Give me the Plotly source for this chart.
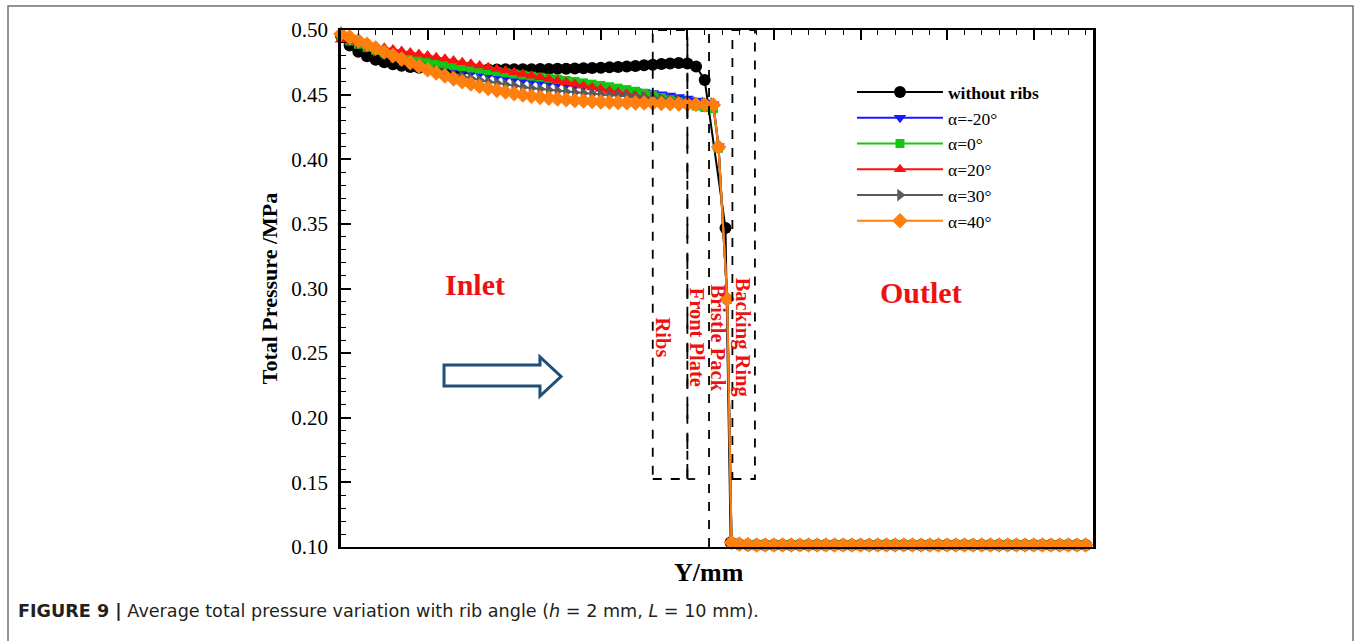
import plotly.graph_objects as go

# ---------------- data ----------------
# Y position (mm-like units, no tick labels on the original axis)
X_INLET = [0.0, 0.5, 1.0, 1.5, 2.0, 2.5, 3.0, 3.5, 4.0, 4.5, 5.0, 5.5, 6.0, 6.5, 7.0,
           7.5, 8.0, 8.5, 9.0, 9.5, 10.0, 10.5, 11.0, 11.5, 12.0, 12.5, 13.0, 13.5,
           14.0, 14.5, 15.0, 15.5, 16.0, 16.5, 17.0, 17.5, 18.0, 18.5, 19.0, 19.5,
           20.0, 20.5, 21.0]
X_DROP = [21.5, 21.8, 22.3, 22.55]
X_DROP_NORIB = [22.2, 22.5]
X_TAIL = [23.0, 23.5, 24.0, 24.5, 25.0, 25.5, 26.0, 26.5, 27.0, 27.5, 28.0, 28.5,
          29.0, 29.5, 30.0, 30.5, 31.0, 31.5, 32.0, 32.5, 33.0, 33.5, 34.0, 34.5,
          35.0, 35.5, 36.0, 36.5, 37.0, 37.5, 38.0, 38.5, 39.0, 39.5, 40.0, 40.5,
          41.0, 41.5, 42.0, 42.5, 43.0]

P_NORIB = [0.4955, 0.4880, 0.4832, 0.4797, 0.4770, 0.4750, 0.4735, 0.4723, 0.4714,
           0.4707, 0.4702, 0.4699, 0.4697, 0.4696, 0.4695, 0.4695, 0.4695, 0.4695,
           0.4695, 0.4696, 0.4696, 0.4697, 0.4697, 0.4698, 0.4699, 0.4700, 0.4701,
           0.4702, 0.4704, 0.4706, 0.4708, 0.4711, 0.4714, 0.4718, 0.4722, 0.4727,
           0.4732, 0.4737, 0.4741, 0.4744, 0.4740, 0.4718, 0.4613]
P_NORIB_DROP = [0.3468, 0.1035]

P_M20 = [0.4940, 0.4915, 0.4890, 0.4866, 0.4843, 0.4822, 0.4802, 0.4783, 0.4766,
         0.4750, 0.4735, 0.4721, 0.4708, 0.4696, 0.4684, 0.4673, 0.4662, 0.4652,
         0.4642, 0.4632, 0.4623, 0.4614, 0.4606, 0.4598, 0.4590, 0.4583, 0.4576,
         0.4569, 0.4562, 0.4555, 0.4549, 0.4543, 0.4538, 0.4533, 0.4527, 0.4520,
         0.4512, 0.4503, 0.4493, 0.4482, 0.4470, 0.4455, 0.4440]
P_M20_DROP = [0.4425, 0.4100, 0.2925, 0.1035]

P_0 = [0.4940, 0.4915, 0.4890, 0.4866, 0.4843, 0.4824, 0.4808, 0.4793, 0.4779,
       0.4766, 0.4755, 0.4745, 0.4735, 0.4725, 0.4716, 0.4706, 0.4696, 0.4687,
       0.4678, 0.4669, 0.4660, 0.4651, 0.4643, 0.4635, 0.4627, 0.4619, 0.4610,
       0.4601, 0.4591, 0.4581, 0.4571, 0.4561, 0.4550, 0.4539, 0.4526, 0.4511,
       0.4495, 0.4478, 0.4461, 0.4444, 0.4428, 0.4412, 0.4400]
P_0_DROP = [0.4392, 0.4085, 0.2915, 0.1035]

P_20 = [0.4925, 0.4915, 0.4903, 0.4890, 0.4876, 0.4862, 0.4849, 0.4837, 0.4825,
        0.4814, 0.4803, 0.4790, 0.4777, 0.4764, 0.4751, 0.4738, 0.4725, 0.4712,
        0.4699, 0.4686, 0.4673, 0.4660, 0.4647, 0.4634, 0.4621, 0.4608, 0.4595,
        0.4582, 0.4569, 0.4556, 0.4543, 0.4530, 0.4517, 0.4504, 0.4492, 0.4481,
        0.4471, 0.4462, 0.4454, 0.4447, 0.4441, 0.4436, 0.4432]
P_20_DROP = [0.4428, 0.4095, 0.2920, 0.1035]

P_30 = [0.4950, 0.4925, 0.4898, 0.4870, 0.4843, 0.4817, 0.4792, 0.4768, 0.4745,
        0.4723, 0.4703, 0.4685, 0.4668, 0.4652, 0.4638, 0.4625, 0.4612, 0.4600,
        0.4589, 0.4578, 0.4568, 0.4558, 0.4550, 0.4543, 0.4536, 0.4529, 0.4522,
        0.4516, 0.4511, 0.4506, 0.4501, 0.4497, 0.4493, 0.4489, 0.4485, 0.4480,
        0.4475, 0.4468, 0.4461, 0.4454, 0.4447, 0.4441, 0.4436]
P_30_DROP = [0.4432, 0.4095, 0.2920, 0.1035]

P_40 = [0.4970, 0.4945, 0.4918, 0.4890, 0.4860, 0.4830, 0.4802, 0.4775, 0.4747,
        0.4720, 0.4692, 0.4668, 0.4645, 0.4622, 0.4600, 0.4582, 0.4565, 0.4548,
        0.4533, 0.4520, 0.4508, 0.4497, 0.4487, 0.4479, 0.4472, 0.4466, 0.4460,
        0.4455, 0.4451, 0.4447, 0.4444, 0.4441, 0.4439, 0.4437, 0.4436, 0.4435,
        0.4434, 0.4432, 0.4430, 0.4428, 0.4426, 0.4424, 0.4422]
P_40_DROP = [0.4420, 0.4095, 0.2919, 0.1035]

# outlet plateau (all cases coincide)
P_TAIL = [0.1022, 0.1018, 0.1016, 0.1015, 0.1015, 0.1015, 0.1015, 0.1015, 0.1015,
          0.1015, 0.1015, 0.1015, 0.1015, 0.1015, 0.1015, 0.1015, 0.1015, 0.1015,
          0.1015, 0.1015, 0.1015, 0.1015, 0.1015, 0.1015, 0.1015, 0.1015, 0.1015,
          0.1015, 0.1015, 0.1015, 0.1015, 0.1015, 0.1015, 0.1015, 0.1015, 0.1015,
          0.1015, 0.1015, 0.1015, 0.1015, 0.1015]

NAMES = ["<b>without ribs</b>", "α=-20°", "α=0°", "α=20°", "α=30°", "α=40°"]
COLORS = ["#000000", "#1a1aff", "#12c812", "#ff1010", "#5a5a5a", "#ff7f0e"]
SYMBOLS = ["circle", "triangle-down", "square", "triangle-up", "triangle-right", "diamond"]
SIZES = [12, 11, 9, 11, 11, 12]

# seal component zones (Y positions) and box bottom (pressure)
ZONE_EDGES = [18.0, 20.0, 21.25, 22.6, 23.9]
ZONE_BOTTOM = 0.1526
ZONE_LABELS = ["Ribs", "Front Plate", "Bristle Pack", "Backing Ring"]
ZONE_LABEL_X = [18.6, 20.55, 21.77, 23.15]
ZONE_LABEL_Y = 0.262

SERIES_Y = [P_NORIB, P_M20, P_0, P_20, P_30, P_40]
SERIES_DROP = [P_NORIB_DROP, P_M20_DROP, P_0_DROP, P_20_DROP, P_30_DROP, P_40_DROP]

fig = go.Figure()
for i in range(6):
    xd = X_DROP_NORIB if i == 0 else X_DROP
    xs = X_INLET + xd + X_TAIL
    ys = SERIES_Y[i] + SERIES_DROP[i] + P_TAIL
    fig.add_trace(go.Scatter(
        x=xs, y=ys, name=NAMES[i], mode="lines+markers",
        line=dict(color=COLORS[i], width=2),
        marker=dict(symbol=SYMBOLS[i], size=SIZES[i], color=COLORS[i], line=dict(width=0)),
        cliponaxis=False,
    ))

RED = "#ee1111"
SERIF = "Liberation Serif"
DASH = dict(color="black", width=1.8, dash="dash")

shapes = []
# dashed component boxes
for x0, x1 in [(ZONE_EDGES[0], ZONE_EDGES[1]), (ZONE_EDGES[3], ZONE_EDGES[4])]:
    shapes.append(dict(type="rect", xref="x", yref="y", x0=x0, x1=x1, y0=ZONE_BOTTOM, y1=0.5,
                       line=DASH))
shapes.append(dict(type="line", xref="x", yref="y", x0=ZONE_EDGES[1], x1=ZONE_EDGES[1],
                   y0=ZONE_BOTTOM, y1=0.5,
                   line=dict(color="black", width=1.8, dash="longdash")))
shapes.append(dict(type="line", xref="x", yref="y", x0=ZONE_EDGES[1], x1=ZONE_EDGES[1] + 0.45,
                   y0=ZONE_BOTTOM, y1=ZONE_BOTTOM, line=dict(color="black", width=1.8)))
shapes.append(dict(type="line", xref="x", yref="y", x0=ZONE_EDGES[2], x1=ZONE_EDGES[2],
                   y0=0.10, y1=0.5, line=DASH))

# flow arrow (outlined block arrow)
shapes.append(dict(type="path", xref="paper", yref="paper",
                   path="M0.1370,0.3114 L0.2646,0.3114 L0.2646,0.2921 L0.2926,0.3298 "
                        "L0.2646,0.3675 L0.2646,0.3520 L0.1370,0.3520 Z",
                   line=dict(color="#1f4e79", width=3), fillcolor="white"))
# outer frame
shapes.append(dict(type="rect", xref="paper", yref="paper", x0=-0.4428, x1=1.3457,
                   y0=-0.25, y1=1.0464, line=dict(color="#707070", width=1.5),
                   fillcolor="rgba(0,0,0,0)", layer="below"))

annotations = [
    dict(text="<b>Inlet</b>", xref="paper", yref="paper", x=0.178, y=0.507, showarrow=False,
         xanchor="center", yanchor="middle",
         font=dict(family=SERIF, size=30, color=RED)),
    dict(text="<b>Outlet</b>", xref="paper", yref="paper", x=0.771, y=0.493, showarrow=False,
         xanchor="center", yanchor="middle",
         font=dict(family=SERIF, size=30, color=RED)),
    dict(text="<b>Y/mm</b>", xref="paper", yref="paper", x=0.489, y=-0.050, showarrow=False,
         xanchor="center", yanchor="middle",
         font=dict(family=SERIF, size=26, color="black")),
    dict(text="<b>FIGURE 9 |</b> Average total pressure variation with rib angle "
              "(<i>h</i> = 2 mm, <i>L</i> = 10 mm).",
         xref="paper", yref="paper", x=-0.4322, y=-0.124, xanchor="left", yanchor="middle",
         showarrow=False, font=dict(family="DejaVu Sans", size=17.6, color="#231f20")),
]
for lab, lx in zip(ZONE_LABELS, ZONE_LABEL_X):
    annotations.append(dict(text="<b>%s</b>" % lab, xref="x", yref="y", x=lx, y=ZONE_LABEL_Y,
                            showarrow=False, textangle=90, xanchor="center", yanchor="middle",
                            font=dict(family=SERIF, size=20.5, color=RED)))

fig.update_layout(
    width=1356, height=641,
    margin=dict(l=341, r=263, t=30, b=94),
    paper_bgcolor="white", plot_bgcolor="white",
    font=dict(family=SERIF, color="black"),
    showlegend=True,
    legend=dict(x=0.6795, y=0.9146, xanchor="left", yanchor="top",
                font=dict(family=SERIF, size=17.5, color="black"),
                itemwidth=86, bgcolor="rgba(0,0,0,0)", tracegroupgap=0),
    xaxis=dict(range=[0, 43.42], side="top", showticklabels=False, ticks="inside",
               tick0=0, dtick=5, ticklen=10, tickwidth=2, tickcolor="black",
               minor=dict(ticks="inside", dtick=1, ticklen=5, tickwidth=1, tickcolor="black"),
               showline=True, linewidth=2, linecolor="black", mirror=True,
               showgrid=False, zeroline=False),
    yaxis=dict(range=[0.10, 0.50], tick0=0.10, dtick=0.05, tickformat=".2f", ticks="inside",
               ticklen=10, tickwidth=2, tickcolor="black", ticklabelstandoff=6,
               minor=dict(ticks="inside", dtick=0.01, ticklen=5, tickwidth=1, tickcolor="black"),
               showline=True, linewidth=2.5, linecolor="black", mirror=True,
               showgrid=False, zeroline=False,
               tickfont=dict(family=SERIF, size=21, color="black"),
               title=dict(text="<b>Total Pressure /MPa</b>", standoff=8,
                          font=dict(family=SERIF, size=22, color="black"))),
    shapes=shapes,
    annotations=annotations,
)

fig.write_html("out.html", post_script="document.body.style.margin='0';",
               config={"displayModeBar": False})
